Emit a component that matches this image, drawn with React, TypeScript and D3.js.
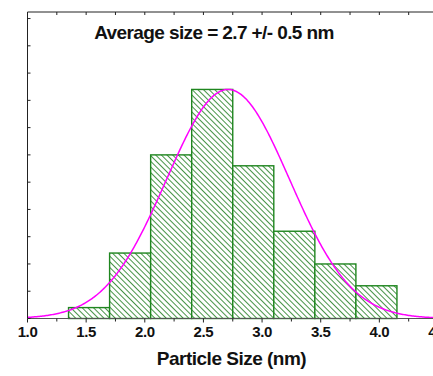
import React from "react";
import * as d3 from "d3";

const binStarts = [1.35, 1.7, 2.05, 2.4, 2.75, 3.1, 3.45, 3.8];
const binWidth = 0.35;
const counts = [1, 6, 15, 21, 14, 8, 5, 3];
const xTickLabels = ["1.0", "1.5", "2.0", "2.5", "3.0", "3.5", "4.0", "4.5"];
const fitMean = 2.71;
const fitSigma = 0.525;
const fitPeak = 21;
const title = "Average size = 2.7 +/- 0.5 nm";
const xLabel = "Particle Size (nm)";

const W = 433, H = 376;
const left = 27.5, right = 438, top = 12, bottom = 318.5;

export default function App() {
  const x = d3.scaleLinear().domain([1.0, 4.5]).range([left, right]);
  const y = d3.scaleLinear().domain([0, 28.1]).range([bottom, top]);
  const yTicks = d3.range(0, 28.1, 2.5);
  const majorX = d3.range(1.0, 4.51, 0.5);
  const minorX = d3.range(1.0, 4.51, 0.25);
  const pts = d3.range(1.0, 4.501, 0.01).map((v) => [v, fitPeak * Math.exp(-((v - fitMean) ** 2) / (2 * fitSigma * fitSigma))]);
  const line = d3.line<number[]>().x((d) => x(d[0])).y((d) => y(d[1])).curve(d3.curveLinear);
  const font = "'Liberation Sans', Arial, sans-serif";
  return (
    <svg width={W} height={H} style={{ position: "fixed", left: 0, top: 0, background: "#fff" }} fontFamily={font}>
      <defs>
        <pattern id="hatch" patternUnits="userSpaceOnUse" width="4" height="4" patternTransform="rotate(-45)">
          <rect width="4" height="4" fill="#fff" />
          <line x1="0" y1="0" x2="0" y2="4" stroke="#0b700b" strokeWidth="1.5" />
        </pattern>
      </defs>
      <rect x={0} y={0} width={W} height={H} fill="#fff" />
      {binStarts.map((b, i) => (
        <rect
          key={i}
          x={x(b)}
          y={y(counts[i])}
          width={x(b + binWidth) - x(b)}
          height={y(0) - y(counts[i])}
          fill="url(#hatch)"
          stroke="#1f861f"
          strokeWidth={1.4}
        />
      ))}
      <path d={line(pts) || ""} fill="none" stroke="#ff00ff" strokeWidth={1.5} />
      {/* frame */}
      <line x1={left} y1={top} x2={left} y2={bottom} stroke="#222" strokeWidth={1} />
      <line x1={left} y1={top} x2={W} y2={top} stroke="#222" strokeWidth={1} />
      <line x1={left} y1={bottom} x2={W} y2={bottom} stroke="#555" strokeWidth={1.2} />
      {yTicks.map((t, i) => (
        <line key={i} x1={left} x2={left + 3} y1={y(t)} y2={y(t)} stroke="#222" />
      ))}
      {minorX.map((t, i) => (
        <line key={"tt" + i} x1={x(t)} x2={x(t)} y1={top} y2={top + 3} stroke="#222" />
      ))}
      {minorX.map((t, i) => {
        const major = Math.abs(t * 2 - Math.round(t * 2)) < 1e-6;
        return <line key={"bt" + i} x1={x(t)} x2={x(t)} y1={bottom} y2={bottom + (major ? 4 : 3)} stroke="#222" />;
      })}
      {majorX.map((t, i) => (
        <text key={"xl" + i} x={x(t)} y={337} textAnchor="middle" fontSize={15} fontWeight="bold" letterSpacing={-0.4} fill="#111">
          {xTickLabels[i]}
        </text>
      ))}
      <text x={214} y={39} textAnchor="middle" fontSize={19} fontWeight="bold" letterSpacing={-0.6} fill="#111">
        {title}
      </text>
      <text x={231.5} y={365} textAnchor="middle" fontSize={19} fontWeight="bold" letterSpacing={-0.5} fill="#111">
        {xLabel}
      </text>
    </svg>
  );
}
